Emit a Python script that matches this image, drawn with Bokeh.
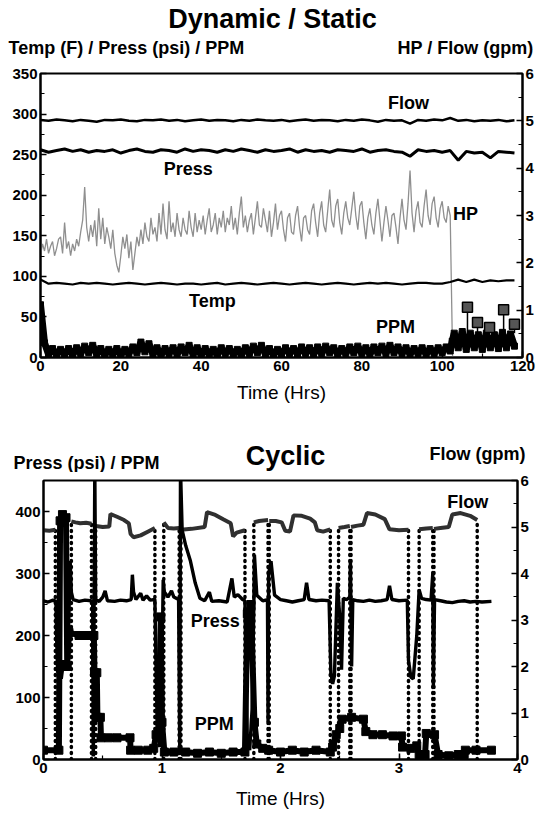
from bokeh.plotting import figure
from bokeh.models import Range1d, LinearAxis, Label, SingleIntervalTicker
from bokeh.layouts import column
from bokeh.embed import file_html
from bokeh.resources import INLINE

NAN = float("nan")

# ================= Dynamic / Static =================
ds_t2 = list(range(0, 120, 2))  # 0..118 h, 2 h sampling
ds_flow = [5.02, 5.00, 5.03, 5.01, 4.99, 5.02, 5.00, 4.98, 5.02, 5.01,
           5.03, 5.00, 4.99, 5.02, 5.01, 5.03, 5.00, 5.02, 4.99, 5.01,
           5.03, 5.00, 5.02, 5.01, 4.99, 5.02, 5.00, 5.03, 5.01, 5.00,
           5.02, 4.99, 5.01, 5.03, 5.00, 5.02, 5.01, 4.99, 5.02, 5.00,
           5.03, 5.01, 4.98, 5.02, 5.00, 5.01, 4.94, 5.02, 5.00, 5.03,
           5.01, 5.06, 5.00, 5.02, 4.99, 5.01, 5.00, 5.02, 4.99, 5.01]
ds_press = [256, 253, 255, 257, 254, 256, 253, 255, 254, 256,
            252, 255, 257, 254, 253, 256, 255, 253, 257, 254,
            256, 255, 253, 256, 254, 257, 255, 253, 256, 254,
            255, 257, 253, 256, 254, 255, 253, 256, 255, 254,
            257, 253, 255, 256, 254, 253, 248, 256, 254, 255,
            253, 255, 243, 254, 252, 253, 246, 254, 253, 252]
ds_temp = [96, 91, 92, 91, 90, 92, 91, 92, 91, 90,
           91, 92, 91, 90, 91, 92, 91, 90, 91, 91,
           90, 91, 92, 90, 91, 92, 91, 90, 91, 92,
           91, 90, 91, 92, 91, 90, 91, 92, 91, 90,
           91, 92, 91, 92, 91, 90, 91, 92, 92, 91,
           91, 93, 96, 93, 96, 93, 95, 94, 95, 95]

# HP sampled every half hour from 0 to 102 h, then the shut-down point
ds_hp_t = [i * 0.5 for i in range(205)] + [102.6]
ds_hp = [2.15, 2.40, 2.25, 2.50, 2.20, 2.35, 2.45, 2.15, 2.30, 2.50,
         2.55, 2.20, 2.85, 2.30, 2.45, 2.15, 2.40, 2.25, 2.50, 2.35,
         2.65, 2.90, 3.60, 2.75, 2.45, 2.80, 2.55, 2.90, 2.35, 3.15,
         2.50, 2.95, 2.40, 2.75, 2.55, 2.30, 2.70, 2.20, 1.95, 1.80,
         2.15, 2.55, 2.30, 2.60, 2.10, 2.45, 1.85, 2.20, 2.55, 2.35,
         2.70, 2.40, 2.85, 2.55, 2.45, 2.95, 2.60, 2.75, 2.45, 3.05,
         2.60, 3.25, 2.70, 2.50, 3.30, 2.65, 2.85, 2.55, 3.05, 2.70,
         2.55, 2.95, 2.70, 2.60, 3.10, 2.75, 2.55, 3.05, 2.65, 2.90,
         2.70, 3.00, 2.60, 2.90, 3.15, 2.65, 2.80, 3.05, 2.60, 2.95,
         2.75, 3.10, 2.65, 2.95, 2.80, 3.20, 2.70, 2.95, 2.60, 3.05,
         3.40, 2.75, 3.00, 2.65, 2.90, 3.05, 2.60, 2.95, 3.30, 2.80,
         2.75, 3.15, 2.90, 2.65, 3.10, 2.55, 2.85, 3.25, 2.70, 3.00,
         3.10, 2.70, 2.45, 2.95, 3.05, 2.65, 2.60, 3.00, 3.20, 2.75,
         2.45, 2.95, 3.00, 2.70, 2.60, 3.10, 3.25, 2.85, 2.55, 3.05,
         3.30, 2.80, 2.65, 3.10, 3.55, 2.90, 2.75, 3.20, 3.35, 2.85,
         2.60, 3.05, 3.30, 2.95, 2.80, 3.15, 3.50, 3.00, 2.70, 3.20,
         3.30, 2.85, 2.50, 2.95, 3.15, 2.80, 2.60, 3.05, 3.35, 2.90,
         2.45, 2.85, 3.20, 2.90, 2.55, 3.00, 3.05, 2.75, 2.40, 2.95,
         3.35, 2.90, 2.70, 3.25, 3.95, 3.05, 2.65, 3.10, 3.30, 2.85,
         2.75, 3.20, 3.55, 3.00, 2.80, 3.25, 3.40, 2.95, 2.75, 3.15,
         3.30, 2.95, 2.85, 3.20, 3.00,
         0.0]

ds_ppm_t = list(range(0, 103)) + [102.5] + list(range(103, 119))
ds_ppm = [65, 18, 4, 11, 3, 10, 4, 11, 3, 12,
          5, 14, 6, 15, 4, 11, 3, 10, 4, 11,
          3, 10, 5, 13, 6, 19, 7, 17, 4, 12,
          3, 11, 5, 12, 4, 13, 6, 15, 4, 12,
          3, 11, 4, 10, 3, 12, 5, 11, 4, 10,
          3, 12, 5, 14, 6, 15, 4, 11, 3, 10,
          4, 12, 5, 11, 4, 13, 5, 12, 4, 13,
          5, 14, 6, 12, 4, 11, 5, 13, 6, 14,
          5, 12, 4, 13, 6, 14, 5, 15, 6, 13,
          5, 12, 4, 11, 5, 12, 4, 11, 5, 12,
          6, 13, 8, 20,
          30, 12, 32, 10, 30, 12, 28, 10, 30, 12,
          28, 11, 31, 12, 29, 14]
ds_spike_t = [106.3, 108.8, 111.8, 115.3, 118.0]
ds_spike_top = [62, 43, 37, 59, 41]
ds_spike_base = [30, 30, 30, 30, 30]

# ================= Cyclic =================
cy_press = [(0.00, 256), (0.04, 254), (0.08, 257), (0.105, 255), (0.11, 200), (0.12, 140),
            (0.135, 150), (0.15, 130), (0.17, 160), (0.19, 145), (0.21, 190), (0.225, 320),
            (0.235, 270), (0.25, 258), (0.30, 255), (0.35, 257), (0.40, 256), (0.415, 255),
            (0.42, 5), (0.433, 470), (0.44, 258), (0.47, 255), (0.50, 262), (0.52, 272),
            (0.54, 256), (0.60, 255), (0.65, 257), (0.70, 256), (0.74, 258), (0.75, 298),
            (0.76, 270), (0.78, 258), (0.82, 268), (0.84, 257), (0.87, 264), (0.90, 257),
            (0.94, 258), (0.95, 150), (0.96, 50), (0.98, 20), (1.00, 150), (1.01, 290),
            (1.02, 270), (1.05, 262), (1.08, 272), (1.10, 262), (1.14, 258), (1.15, 10),
            (1.156, 470), (1.17, 370), (1.20, 345), (1.24, 320), (1.28, 285), (1.32, 260),
            (1.36, 256), (1.40, 270), (1.42, 255), (1.48, 256), (1.55, 254), (1.59, 292),
            (1.61, 262), (1.64, 266), (1.68, 258), (1.70, 256), (1.71, 120), (1.72, 30),
            (1.74, 15), (1.76, 80), (1.775, 250), (1.78, 330), (1.80, 265), (1.85, 256),
            (1.89, 258), (1.895, 60), (1.90, 300), (1.92, 320), (1.95, 265), (2.00, 258),
            (2.05, 256), (2.10, 254), (2.15, 256), (2.20, 258), (2.22, 285), (2.24, 258),
            (2.30, 256), (2.35, 257), (2.41, 256), (2.425, 140), (2.44, 122), (2.455, 135),
            (2.47, 225), (2.48, 285), (2.50, 230), (2.515, 145), (2.53, 260), (2.56, 258),
            (2.585, 262), (2.59, 320), (2.60, 150), (2.61, 258), (2.65, 256), (2.70, 255),
            (2.75, 257), (2.80, 255), (2.85, 256), (2.90, 258), (2.92, 280), (2.94, 258),
            (3.00, 256), (3.07, 257), (3.08, 160), (3.10, 133), (3.12, 130), (3.15, 200),
            (3.17, 274), (3.19, 260), (3.23, 258), (3.27, 257), (3.285, 300), (3.29, 117),
            (3.30, 258), (3.35, 256), (3.40, 254), (3.45, 253), (3.50, 255), (3.55, 256),
            (3.60, 254), (3.65, 255), (3.70, 254), (3.78, 255)]

cy_flow_segments = [
    [(0.00, 4.93), (0.05, 4.92), (0.10, 4.94)],
    [(0.235, 5.12), (0.27, 5.10), (0.31, 5.08), (0.36, 5.09), (0.405, 5.07)],
    [(0.44, 5.02), (0.50, 5.00), (0.555, 5.01), (0.565, 5.28), (0.62, 5.22), (0.68, 5.15),
     (0.72, 5.08), (0.735, 4.85), (0.76, 4.78), (0.82, 4.82), (0.88, 4.90), (0.94, 4.98)],
    [(1.015, 5.10), (1.05, 4.98), (1.10, 4.97), (1.145, 4.98)],
    [(1.16, 4.94), (1.25, 4.96), (1.36, 5.00), (1.38, 5.32), (1.45, 5.26), (1.52, 5.16),
     (1.58, 5.08), (1.60, 4.80), (1.63, 4.88), (1.70, 4.93)],
    [(1.775, 5.10), (1.82, 5.13), (1.895, 5.15)],
    [(1.905, 5.13), (1.96, 5.13), (2.01, 5.10), (2.04, 4.92), (2.08, 4.90), (2.11, 5.25),
     (2.18, 5.24), (2.25, 5.18), (2.29, 5.10), (2.31, 4.93), (2.36, 4.90), (2.42, 4.95)],
    [(2.49, 4.98), (2.54, 5.00), (2.585, 5.02)],
    [(2.595, 5.00), (2.65, 5.03), (2.70, 5.05), (2.73, 5.30), (2.80, 5.27), (2.88, 5.17),
     (2.92, 4.95), (3.00, 4.93), (3.08, 4.94)],
    [(3.17, 4.95), (3.23, 4.97), (3.285, 4.98)],
    [(3.295, 4.96), (3.35, 4.98), (3.42, 5.00), (3.45, 5.27), (3.52, 5.30), (3.60, 5.24),
     (3.66, 5.15)],
]

cy_ppm = [(0.00, 15), (0.13, 15), (0.14, 385), (0.16, 395), (0.19, 390), (0.20, 150),
          (0.215, 205), (0.30, 200), (0.36, 200), (0.425, 200), (0.43, 140), (0.45, 140),
          (0.455, 68), (0.48, 68), (0.485, 35), (0.55, 35), (0.62, 35), (0.73, 35),
          (0.735, 15), (0.80, 15), (0.88, 15), (0.93, 18), (0.95, 40), (0.97, 45),
          (0.99, 230), (1.00, 60), (1.02, 12), (1.10, 12), (1.20, 12), (1.30, 10),
          (1.40, 12), (1.50, 10), (1.60, 12), (1.70, 12), (1.72, 235), (1.75, 250),
          (1.78, 60), (1.80, 25), (1.85, 18), (1.90, 15), (2.00, 12), (2.10, 15),
          (2.20, 12), (2.30, 15), (2.42, 12), (2.44, 20), (2.47, 40), (2.50, 50),
          (2.52, 65), (2.60, 68), (2.70, 65), (2.72, 45), (2.78, 40), (2.86, 40),
          (2.95, 38), (3.02, 38), (3.03, 20), (3.10, 18), (3.15, 22), (3.17, 8),
          (3.22, 8), (3.23, 42), (3.30, 40), (3.33, 8), (3.42, 6), (3.50, 8),
          (3.55, 8), (3.56, 15), (3.65, 15), (3.78, 15)]

BOLD = "Liberation Sans"
TICK_PX = "15px"
W = 540


def style_axis(ax, interval, minor):
    ax.ticker = SingleIntervalTicker(interval=interval, num_minor_ticks=minor)
    ax.axis_line_width = 2
    ax.axis_line_color = "black"
    ax.major_tick_in = 6
    ax.major_tick_out = 0
    ax.minor_tick_in = 4
    ax.minor_tick_out = 0
    ax.major_tick_line_width = 1.5
    ax.minor_tick_line_width = 1.2
    ax.major_tick_line_color = "black"
    ax.minor_tick_line_color = "black"
    ax.major_label_text_font = BOLD
    ax.major_label_text_font_style = "bold"
    ax.major_label_text_font_size = TICK_PX
    ax.major_label_text_color = "black"
    ax.major_label_standoff = 3


def base_fig(h, xr, yr, yr2, borders):
    p = figure(width=W, height=h, x_range=xr, y_range=yr,
               output_backend="svg", toolbar_location=None, frame_align=False,
               min_border_left=borders[0], min_border_right=borders[1],
               min_border_top=borders[2], min_border_bottom=borders[3])
    p.extra_y_ranges = {"right": yr2}
    p.add_layout(LinearAxis(y_range_name="right"), "right")
    p.xgrid.visible = False
    p.ygrid.visible = False
    p.outline_line_color = "black"
    p.outline_line_width = 2
    p.background_fill_color = "white"
    p.border_fill_color = "white"
    p.xaxis.axis_label = "Time (Hrs)"
    p.xaxis.axis_label_text_font = "Liberation Sans"
    p.xaxis.axis_label_text_font_style = "normal"
    p.xaxis.axis_label_text_font_size = "19px"
    p.xaxis.axis_label_text_color = "black"
    return p


def header_fig(h):
    p = figure(width=W, height=h, x_range=Range1d(0, W), y_range=Range1d(h, 0),
               x_axis_type=None, y_axis_type=None, output_backend="svg",
               toolbar_location=None, frame_align=False,
               min_border=0, min_border_left=0, min_border_right=0,
               min_border_top=0, min_border_bottom=0)
    p.xgrid.visible = False
    p.ygrid.visible = False
    p.outline_line_color = None
    p.background_fill_color = "white"
    p.border_fill_color = "white"
    return p


def add_text(p, x, y, txt, size, align="center"):
    p.add_layout(Label(x=x, y=y, text=txt, text_font=BOLD, text_font_style="bold",
                       text_font_size=size, text_align=align, text_baseline="middle",
                       text_color="black"))


# ---------- header 1 ----------
h1 = header_fig(63)
add_text(h1, 272, 18, "Dynamic / Static", "27px")
add_text(h1, 8, 47, "Temp (F) / Press (psi) / PPM", "18px", "left")
add_text(h1, 533, 47, "HP / Flow (gpm)", "18px", "right")

# ---------- figure 1 ----------
p1 = base_fig(346, Range1d(0, 120), Range1d(0, 350), Range1d(0, 6), (40, 18, 10, 52))
style_axis(p1.xaxis[0], 20, 2)
style_axis(p1.yaxis[0], 50, 2)
style_axis(p1.yaxis[1], 1, 2)
p1.xaxis.axis_label_standoff = 8

p1.line(ds_hp_t, ds_hp, y_range_name="right", line_color="#8f8f8f", line_width=1.3)
p1.line(ds_t2, ds_flow, y_range_name="right", line_color="black", line_width=2.5)
p1.line(ds_t2, ds_press, line_color="black", line_width=3)
p1.line(ds_t2, ds_temp, line_color="black", line_width=2.2)
p1.line(ds_ppm_t, ds_ppm, line_color="black", line_width=7)
p1.scatter(ds_ppm_t, ds_ppm, marker="square", size=6, color="black")
p1.segment(x0=ds_spike_t, y0=ds_spike_base, x1=ds_spike_t, y1=ds_spike_top,
           line_color="black", line_width=1.5)
p1.scatter(ds_spike_t, ds_spike_top, marker="square", size=10, fill_color="#555555",
           line_color="black", line_width=1.5)

add_text(p1, 91.6, 314, "Flow", "18px")
add_text(p1, 36.8, 232, "Press", "18px")
add_text(p1, 105.8, 177, "HP", "18px")
add_text(p1, 42.8, 70, "Temp", "18px")
add_text(p1, 88.4, 38, "PPM", "18px")

# ---------- header 2 ----------
h2 = header_fig(63)
add_text(h2, 285, 46, "Cyclic", "27px")
add_text(h2, 13, 53, "Press (psi) / PPM", "18px", "left")
add_text(h2, 525, 44, "Flow (gpm)", "18px", "right")

# ---------- figure 2 ----------
p2 = base_fig(341, Range1d(0, 4), Range1d(0, 450), Range1d(0, 6), (43, 23, 8, 54))
style_axis(p2.xaxis[0], 1, 2)
style_axis(p2.yaxis[0], 100, 2)
style_axis(p2.yaxis[1], 1, 2)
p2.xaxis.axis_label_standoff = 12

# flow: solid on-segments joined by NaN, dotted verticals at stops/starts
fl_t, fl_v = [], []
dot_t, dot_v = [], []
for seg in cy_flow_segments:
    for t, v in seg:
        fl_t.append(t)
        fl_v.append(v)
    fl_t.append(NAN)
    fl_v.append(NAN)
    if seg[0][0] > 0:
        dot_t.append(seg[0][0]); dot_v.append(seg[0][1])
    dot_t.append(seg[-1][0]); dot_v.append(seg[-1][1])

p2.segment(x0=dot_t, y0=[0] * len(dot_t), x1=dot_t, y1=dot_v, y_range_name="right",
           line_color="black", line_width=3.5, line_dash="1 5", line_cap="round")
p2.line(fl_t, fl_v, y_range_name="right", line_color="#303030", line_width=4)

pt = [a for a, b in cy_press]
pv = [b for a, b in cy_press]
p2.line(pt, pv, line_color="black", line_width=3.4)

mt = [a for a, b in cy_ppm]
mv = [b for a, b in cy_ppm]
p2.line(mt, mv, line_color="black", line_width=6)
p2.scatter(mt, mv, marker="square", size=8, color="black")

add_text(p2, 3.58, 416, "Flow", "18px")
add_text(p2, 1.45, 224, "Press", "18px")
add_text(p2, 1.44, 58, "PPM", "18px")

layout = column(h1, p1, h2, p2)
open("out.html", "w").write(file_html(layout, INLINE))
